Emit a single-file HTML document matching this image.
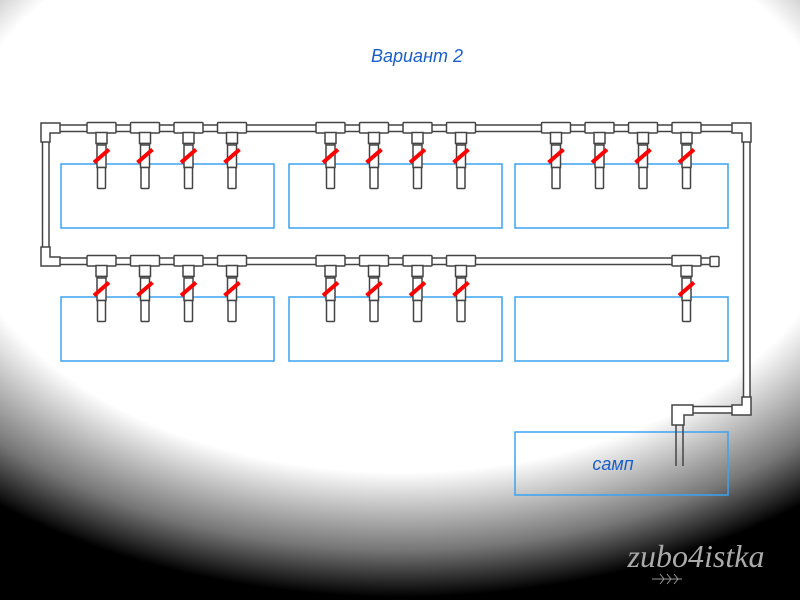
<!DOCTYPE html>
<html><head><meta charset="utf-8"><style>
html,body{margin:0;padding:0;width:800px;height:600px;overflow:hidden}
body{background:radial-gradient(ellipse 660px 430px at 400px 180px,#fff 0%,#fff 68%,#777 86%,#000 97%);position:relative}
svg{position:absolute;left:0;top:0}
.t{font-family:"Liberation Sans",sans-serif;font-style:italic;fill:#1a5fc8}
</style></head><body>
<svg width="800" height="600" viewBox="0 0 800 600">
<defs>
<g id="tap">
<rect x="-14.5" y="0" width="29" height="10.5" fill="#fff" stroke="#444" stroke-width="1.5" rx="1"/>
<rect x="-5.5" y="10" width="11" height="11" fill="#fff" stroke="#444" stroke-width="1.5"/>
<rect x="-4.5" y="21" width="9" height="24" fill="#fff" stroke="#444" stroke-width="1.5"/>
<line x1="-4.5" y1="22.5" x2="4.5" y2="22.5" stroke="#444" stroke-width="1.5"/>
<rect x="-4" y="45" width="8" height="21" fill="#fff" stroke="#444" stroke-width="1.5" rx="1"/>
<line x1="-7.5" y1="40" x2="7.5" y2="27" stroke="#f00" stroke-width="4"/>
</g>
</defs>
<text x="417" y="62" class="t" font-size="18" text-anchor="middle">Вариант 2</text>
<g fill="none" stroke="#3aa3f0" stroke-width="1.5">
<rect x="61" y="164" width="213" height="64"/>
<rect x="289" y="164" width="213" height="64"/>
<rect x="515" y="164" width="213" height="64"/>
<rect x="61" y="297" width="213" height="64"/>
<rect x="289" y="297" width="213" height="64"/>
<rect x="515" y="297" width="213" height="64"/>
<rect x="515" y="432" width="213" height="63"/>
</g>
<g fill="#fff" stroke="#444" stroke-width="1.5">
<rect x="55" y="125" width="685" height="6.5"/>
<rect x="42.5" y="138" width="6.5" height="113"/>
<rect x="55" y="258" width="657" height="6.5"/>
<rect x="743.5" y="138" width="6.5" height="265"/>
<rect x="688" y="406.5" width="50" height="6.5"/>
<line x1="676" y1="420" x2="676" y2="466"/>
<line x1="683" y1="420" x2="683" y2="466"/>
<path d="M41 123 H60 V133 H50 V142 H41 Z"/>
<path d="M41 247 H50 V257 H60 V266 H41 Z"/>
<path d="M732 123 H751 V142 H742 V133 H732 Z"/>
<path d="M742 397 H751 V415 H732 V405 H742 Z"/>
<path d="M672 405 H693 V415 H684 V425 H672 Z"/>
<rect x="710" y="256.5" width="9" height="10" rx="1"/>
</g>
<use href="#tap" x="101.5" y="122.5"/><use href="#tap" x="145" y="122.5"/><use href="#tap" x="188.5" y="122.5"/><use href="#tap" x="232" y="122.5"/>
<use href="#tap" x="330.5" y="122.5"/><use href="#tap" x="374" y="122.5"/><use href="#tap" x="417.5" y="122.5"/><use href="#tap" x="461" y="122.5"/>
<use href="#tap" x="556" y="122.5"/><use href="#tap" x="599.5" y="122.5"/><use href="#tap" x="643" y="122.5"/><use href="#tap" x="686.5" y="122.5"/>
<use href="#tap" x="101.5" y="255.5"/><use href="#tap" x="145" y="255.5"/><use href="#tap" x="188.5" y="255.5"/><use href="#tap" x="232" y="255.5"/>
<use href="#tap" x="330.5" y="255.5"/><use href="#tap" x="374" y="255.5"/><use href="#tap" x="417.5" y="255.5"/><use href="#tap" x="461" y="255.5"/>
<use href="#tap" x="686.5" y="255.5"/>
<text x="613" y="470" class="t" font-size="18" text-anchor="middle">самп</text>
<text x="696" y="567" font-family="Liberation Serif,serif" font-style="italic" font-size="32" fill="#aaa" text-anchor="middle">zubo4istka</text>
<path d="M652 579 L682 579 M660 574 l4 5 l-4 5 M667 574 l4 5 l-4 5 M674 574 l4 5 l-4 5" stroke="#999" fill="none" stroke-width="1"/>
</svg>
</body></html>
